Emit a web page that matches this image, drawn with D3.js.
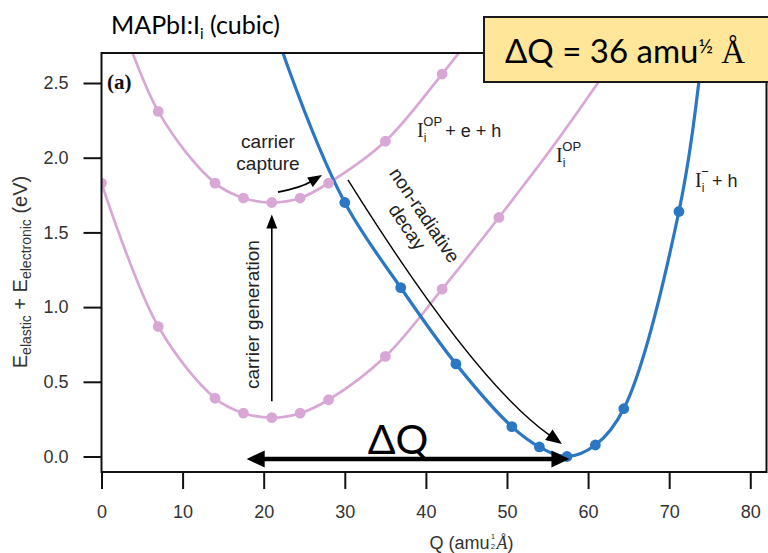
<!DOCTYPE html>
<html>
<head>
<meta charset="utf-8">
<script src="https://cdn.jsdelivr.net/npm/d3@7"></script>
<style>
  html, body { margin: 0; padding: 0; background: #fff; }
  svg { display: block; }
</style>
</head>
<body>
<svg id="chart" width="768" height="553"></svg>
<script>
// ---------- data ----------
const xTicks = [0, 10, 20, 30, 40, 50, 60, 70, 80];
const yTicks = [0.0, 0.5, 1.0, 1.5, 2.0, 2.5];

// ground state I_i^OP (pink, lower)
const groundQ = [0, 7, 14, 17.5, 21, 24.5, 28, 35, 42, 49];
const groundE = [1.83, 0.87, 0.39, 0.29, 0.26, 0.29, 0.38, 0.67, 1.12, 1.60];
const groundLineQ = [56, 63];          // traced continuation of the fitted line
const groundLineE = [2.10, 2.64];

// excited state I_i^OP + e + h (pink, upper)
const excitedQ = [7, 14, 17.5, 21, 24.5, 28, 35, 42];
const excitedE = [2.31, 1.83, 1.73, 1.70, 1.73, 1.83, 2.11, 2.56];
const excitedLineQ = [0, 49];
const excitedLineE = [3.30, 3.05];

// I_i^- + h (blue)
const blueQ = [30.0, 36.9, 43.7, 50.6, 54.0, 57.4, 60.9, 64.4, 71.2];
const blueE = [1.70, 1.13, 0.62, 0.20, 0.064, 0.0, 0.077, 0.32, 1.64];
const blueLineQ = [16.5, 23.1, 74.7, 78.1];
const blueLineE = [3.75, 2.59, 2.97, 4.60];

const deltaQ = 36;

// ---------- setup ----------
const svg = d3.select("#chart");
const L = 101.5, R = 766.5, T = 53, B = 472;
const x = d3.scaleLinear().domain([0, 82]).range([L, R]);
const y = d3.scaleLinear().domain([-0.1037, 2.7008]).range([B, T]);

const pink = "#d9a7d6";
const blue = "#2a77c3";
const sans = "'Liberation Sans', Arial, Helvetica, sans-serif";
const cal = "Lato, 'Open Sans', sans-serif";
const serif = "'Liberation Serif', 'DejaVu Serif', serif";

svg.append("defs").append("clipPath").attr("id", "plotclip")
  .append("rect").attr("x", L).attr("y", T).attr("width", R - L).attr("height", B - T);

const zip = (qs, es) => qs.map((q, i) => ({ q, e: es[i] }));
const merge = (a, b) => a.concat(b).sort((m, n) => m.q - n.q);

const line = d3.line().x(d => x(d.q)).y(d => y(d.e)).curve(d3.curveCatmullRom.alpha(0.5));

const plot = svg.append("g").attr("clip-path", "url(#plotclip)");

const groundPts = zip(groundQ, groundE);
const excitedPts = zip(excitedQ, excitedE);
const bluePts = zip(blueQ, blueE);

plot.append("path").attr("d", line(merge(groundPts, zip(groundLineQ, groundLineE))))
  .attr("fill", "none").attr("stroke", pink).attr("stroke-width", 2.7);
plot.append("path").attr("d", line(merge(excitedPts, zip(excitedLineQ, excitedLineE))))
  .attr("fill", "none").attr("stroke", pink).attr("stroke-width", 2.7);
plot.append("path").attr("d", line(merge(bluePts, zip(blueLineQ, blueLineE))))
  .attr("fill", "none").attr("stroke", blue).attr("stroke-width", 3.2);

plot.selectAll(".gd").data(groundPts.concat(excitedPts)).join("circle")
  .attr("cx", d => x(d.q)).attr("cy", d => y(d.e)).attr("r", 5.4).attr("fill", pink);
plot.selectAll(".bd").data(bluePts).join("circle")
  .attr("cx", d => x(d.q)).attr("cy", d => y(d.e)).attr("r", 5.4).attr("fill", blue);

// ---------- frame & axes ----------
svg.append("rect").attr("x", L).attr("y", T).attr("width", R - L).attr("height", B - T)
  .attr("fill", "none").attr("stroke", "#111").attr("stroke-width", 2);

const yAxis = svg.append("g").attr("transform", `translate(${L},0)`)
  .call(d3.axisLeft(y).tickValues(yTicks).tickFormat(d3.format(".1f")).tickSize(18).tickPadding(15));
const xAxis = svg.append("g").attr("transform", `translate(0,${B})`)
  .call(d3.axisBottom(x).tickValues(xTicks).tickFormat(d3.format("d")).tickSize(17).tickPadding(16));
[yAxis, xAxis].forEach(g => {
  g.select(".domain").remove();
  g.selectAll(".tick line").attr("stroke", "#111").attr("stroke-width", 2);
  g.selectAll(".tick text").attr("font-family", sans).attr("font-size", 18).attr("fill", "#333");
});

// y label
const yl = svg.append("text").attr("transform", "translate(27,272) rotate(-90)")
  .attr("text-anchor", "middle").attr("font-family", sans).attr("font-size", 20).attr("fill", "#333");
yl.append("tspan").text("E");
yl.append("tspan").text("elastic").attr("font-size", 14).attr("dy", 4);
yl.append("tspan").text(" + E").attr("dy", -4);
yl.append("tspan").text("electronic").attr("font-size", 14).attr("dy", 4);
yl.append("tspan").text(" (eV)").attr("dy", -4);

// x label (fraction exponent drawn as separate small texts)
const xl = svg.append("text").attr("x", 398).attr("y", 549)
  .attr("font-family", sans).attr("font-size", 18).attr("fill", "#333");
xl.append("tspan").text("Q (amu");
xl.append("tspan").text("Å").attr("font-family", serif).attr("font-style", "italic").attr("dx", 7);
xl.append("tspan").text(")");
const xlW = xl.node().getComputedTextLength();
xl.attr("x", 468 - xlW / 2);
const amuW = xl.select("tspan").node().getComputedTextLength();
svg.append("text").attr("x", 468 - xlW / 2 + amuW + 3.5).attr("y", 539).attr("text-anchor", "middle")
  .attr("font-family", sans).attr("font-size", 8).attr("fill", "#333").text("1");
svg.append("text").attr("x", 468 - xlW / 2 + amuW + 3.5).attr("y", 549).attr("text-anchor", "middle")
  .attr("font-family", sans).attr("font-size", 8).attr("fill", "#333").text("2");

// panel tag
svg.append("text").attr("x", 107).attr("y", 89).attr("font-family", serif)
  .attr("font-weight", "bold").attr("font-size", 21).attr("fill", "#111").text("(a)");

// curve labels
function stateLabel(px, py, sup, rest) {
  const t = svg.append("text").attr("x", px).attr("y", py).attr("fill", "#222").attr("font-size", 19);
  t.append("tspan").text("I").attr("font-family", serif).attr("font-size", 20);
  t.append("tspan").text("i").attr("font-family", sans).attr("font-size", 12).attr("dy", 5);
  if (sup) t.append("tspan").text(sup).attr("font-family", sans).attr("font-size", 13).attr("dx", -3).attr("dy", -16);
  if (rest) t.append("tspan").text(rest).attr("font-family", sans).attr("font-size", 18).attr("dx", 3).attr("dy", 11);
}
stateLabel(417, 137, "OP", "+ e + h");
stateLabel(556, 162, "OP", null);
stateLabel(695, 187, "\u2212", "+ h");

// ---------- annotations ----------
function arrowHead(tipX, tipY, fromX, fromY, len, wid) {
  const a = Math.atan2(tipY - fromY, tipX - fromX);
  const bx = tipX - len * Math.cos(a), by = tipY - len * Math.sin(a);
  const px = -Math.sin(a) * wid / 2, py = Math.cos(a) * wid / 2;
  svg.append("path").attr("d", `M${tipX},${tipY}L${bx + px},${by + py}L${bx - px},${by - py}Z`).attr("fill", "#000");
}
function curvedArrow(q0, e0, qc, ec, q1, e1, sw, len, wid) {
  const x0 = x(q0), y0 = y(e0), cx = x(qc), cy = y(ec), x1 = x(q1), y1 = y(e1);
  const a = Math.atan2(y1 - cy, x1 - cx);
  const ex = x1 - (len - 2) * Math.cos(a), ey = y1 - (len - 2) * Math.sin(a);
  svg.append("path").attr("d", `M${x0},${y0}Q${cx},${cy} ${ex},${ey}`)
    .attr("fill", "none").attr("stroke", "#000").attr("stroke-width", sw);
  arrowHead(x1, y1, cx, cy, len, wid);
}
// carrier generation
curvedArrow(21, 0.37, 21, 1.0, 21, 1.62, 1.6, 14, 11);
svg.append("text").attr("transform", `translate(${x(21) - 13},${y(0.95)}) rotate(-90)`)
  .attr("text-anchor", "middle").attr("font-family", sans).attr("font-size", 19).attr("fill", "#222")
  .text("carrier generation");
// carrier capture
curvedArrow(21.76, 1.77, 24.6, 1.80, 27.19, 1.884, 1.8, 14, 11);
const cc = svg.append("text").attr("text-anchor", "middle").attr("font-family", sans).attr("font-size", 19).attr("fill", "#222");
cc.append("tspan").attr("x", 268).attr("y", 148).text("carrier");
cc.append("tspan").attr("x", 268).attr("y", 170).text("capture");
// non-radiative decay
curvedArrow(30.39, 1.851, 46.05, 0.492, 56.78, 0.084, 1.4, 16, 13);
const nd = svg.append("text").attr("transform", "translate(416,221) rotate(56)")
  .attr("text-anchor", "middle").attr("font-family", sans).attr("font-size", 19).attr("fill", "#222");
nd.append("tspan").attr("x", 0).attr("y", -4).text("non-radiative");
nd.append("tspan").attr("x", 0).attr("y", 17).text("decay");

// ΔQ double arrow
const aY = 459;
const qa = 17.9, qb = 57.7;
svg.append("line").attr("x1", x(qa) + 14).attr("x2", x(qb) - 14).attr("y1", aY).attr("y2", aY)
  .attr("stroke", "#000").attr("stroke-width", 4.5);
arrowHead(x(qa), aY, x(qb), aY, 18, 17);
arrowHead(x(qb), aY, x(qa), aY, 18, 17);
svg.append("text").attr("x", 398).attr("y", 454).attr("text-anchor", "middle")
  .attr("font-family", cal).attr("font-size", 41).attr("fill", "#000").text("ΔQ");

// title
const ti = svg.append("text").attr("x", 111).attr("y", 34).attr("font-family", cal).attr("font-size", 25).attr("fill", "#000");
ti.append("tspan").text("MAPbI:I");
ti.append("tspan").text("i").attr("font-size", 15).attr("dy", 5);
ti.append("tspan").text(" (cubic)").attr("dy", -5);

// ΔQ box
svg.append("rect").attr("x", 484).attr("y", 17).attr("width", 300).attr("height", 65)
  .attr("fill", "#ffe699").attr("stroke", "#1a1a1a").attr("stroke-width", 2);
const bt = svg.append("text").attr("x", 505).attr("y", 63).attr("font-family", cal).attr("font-size", 33).attr("fill", "#000");
bt.append("tspan").text(`ΔQ = ${deltaQ} amu`);
bt.append("tspan").text("½").attr("font-size", 20).attr("dy", -10);
bt.append("tspan").text(" Å").attr("font-family", serif).attr("dy", 10);
</script>
</body>
</html>
